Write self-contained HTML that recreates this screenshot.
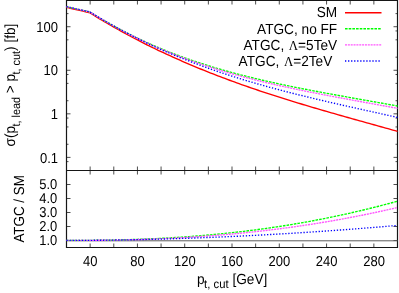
<!DOCTYPE html>
<html><head><meta charset="utf-8"><style>html,body{margin:0;padding:0;background:#fff}svg{display:block;will-change:transform}text{font-family:"Liberation Sans",sans-serif;fill:#000;text-rendering:geometricPrecision}</style></head><body>
<svg width="399" height="293" viewBox="0 0 399 293">
<rect width="399" height="293" fill="#fff"/>
<path d="M90.14,0.5 v4.0 M90.14,166.5 v8.0 M90.14,247.5 v-4.0 M113.79,0.5 v4.0 M113.79,166.5 v8.0 M113.79,247.5 v-4.0 M137.43,0.5 v4.0 M137.43,166.5 v8.0 M137.43,247.5 v-4.0 M161.07,0.5 v4.0 M161.07,166.5 v8.0 M161.07,247.5 v-4.0 M184.71,0.5 v4.0 M184.71,166.5 v8.0 M184.71,247.5 v-4.0 M208.36,0.5 v4.0 M208.36,166.5 v8.0 M208.36,247.5 v-4.0 M232.00,0.5 v4.0 M232.00,166.5 v8.0 M232.00,247.5 v-4.0 M255.64,0.5 v4.0 M255.64,166.5 v8.0 M255.64,247.5 v-4.0 M279.29,0.5 v4.0 M279.29,166.5 v8.0 M279.29,247.5 v-4.0 M302.93,0.5 v4.0 M302.93,166.5 v8.0 M302.93,247.5 v-4.0 M326.57,0.5 v4.0 M326.57,166.5 v8.0 M326.57,247.5 v-4.0 M350.21,0.5 v4.0 M350.21,166.5 v8.0 M350.21,247.5 v-4.0 M373.86,0.5 v4.0 M373.86,166.5 v8.0 M373.86,247.5 v-4.0 M66.5,161.61 h2.0 M397.5,161.61 h-2.0 M66.5,157.39 h4.0 M397.5,157.39 h-4.0 M66.5,144.28 h2.0 M397.5,144.28 h-2.0 M66.5,126.94 h2.0 M397.5,126.94 h-2.0 M66.5,118.05 h2.0 M397.5,118.05 h-2.0 M66.5,113.83 h4.0 M397.5,113.83 h-4.0 M66.5,100.72 h2.0 M397.5,100.72 h-2.0 M66.5,83.39 h2.0 M397.5,83.39 h-2.0 M66.5,74.50 h2.0 M397.5,74.50 h-2.0 M66.5,70.28 h4.0 M397.5,70.28 h-4.0 M66.5,57.17 h2.0 M397.5,57.17 h-2.0 M66.5,39.83 h2.0 M397.5,39.83 h-2.0 M66.5,30.94 h2.0 M397.5,30.94 h-2.0 M66.5,26.72 h4.0 M397.5,26.72 h-4.0 M66.5,13.61 h2.0 M397.5,13.61 h-2.0 M66.5,240.50 h4.0 M397.5,240.50 h-4.0 M66.5,226.50 h4.0 M397.5,226.50 h-4.0 M66.5,212.50 h4.0 M397.5,212.50 h-4.0 M66.5,198.50 h4.0 M397.5,198.50 h-4.0 M66.5,184.50 h4.0 M397.5,184.50 h-4.0" stroke="#000" stroke-width="0.7" fill="none"/>
<path d="M66.5,0.5 H397.5 V247.5 H66.5 Z M66.5,170.5 H397.5" stroke="#161616" stroke-width="1.2" fill="none"/>
<path d="M66.5,240.8 H397.5" stroke="#5a5a5a" stroke-width="1" fill="none"/>
<path d="M66.50,7.40 L68.86,7.94 L71.23,8.48 L73.59,9.03 L75.96,9.57 L78.32,10.11 L80.69,10.65 L83.05,11.19 L85.41,11.73 L87.78,12.28 L90.14,12.96 L92.51,14.44 L94.87,15.91 L97.24,17.37 L99.60,18.81 L101.96,20.23 L104.33,21.63 L106.69,23.02 L109.06,24.40 L111.42,25.76 L113.79,27.12 L116.15,28.46 L118.51,29.78 L120.88,31.10 L123.24,32.40 L125.61,33.69 L127.97,34.97 L130.34,36.24 L132.70,37.49 L135.06,38.73 L137.43,39.97 L139.79,41.19 L142.16,42.40 L144.52,43.59 L146.89,44.78 L149.25,45.96 L151.61,47.11 L153.98,48.26 L156.34,49.39 L158.71,50.52 L161.07,51.63 L163.44,52.73 L165.80,53.83 L168.16,54.91 L170.53,55.98 L172.89,57.06 L175.26,58.13 L177.62,59.18 L179.99,60.23 L182.35,61.27 L184.71,62.30 L187.08,63.32 L189.44,64.33 L191.81,65.33 L194.17,66.33 L196.54,67.31 L198.90,68.29 L201.26,69.25 L203.63,70.21 L205.99,71.16 L208.36,72.11 L210.72,73.04 L213.09,73.97 L215.45,74.89 L217.81,75.80 L220.18,76.70 L222.54,77.60 L224.91,78.49 L227.27,79.37 L229.64,80.25 L232.00,81.11 L234.36,81.98 L236.73,82.83 L239.09,83.68 L241.46,84.52 L243.82,85.36 L246.19,86.18 L248.55,87.01 L250.91,87.82 L253.28,88.63 L255.64,89.44 L258.01,90.24 L260.37,91.03 L262.74,91.82 L265.10,92.60 L267.46,93.38 L269.83,94.15 L272.19,94.92 L274.56,95.68 L276.92,96.44 L279.29,97.19 L281.65,97.94 L284.01,98.68 L286.38,99.42 L288.74,100.16 L291.11,100.89 L293.47,101.61 L295.84,102.34 L298.20,103.06 L300.56,103.77 L302.93,104.48 L305.29,105.19 L307.66,105.90 L310.02,106.60 L312.39,107.30 L314.75,107.99 L317.11,108.69 L319.48,109.38 L321.84,110.07 L324.21,110.75 L326.57,111.43 L328.94,112.11 L331.30,112.79 L333.66,113.47 L336.03,114.14 L338.39,114.81 L340.76,115.49 L343.12,116.15 L345.49,116.82 L347.85,117.49 L350.21,118.15 L352.58,118.82 L354.94,119.48 L357.31,120.14 L359.67,120.80 L362.04,121.46 L364.40,122.12 L366.76,122.78 L369.13,123.44 L371.49,124.10 L373.86,124.76 L376.22,125.41 L378.59,126.07 L380.95,126.73 L383.31,127.39 L385.68,128.05 L388.04,128.71 L390.41,129.37 L392.77,130.03 L395.14,130.69 L397.50,131.35" stroke="#ff0000" stroke-width="1.35" fill="none"/>
<path d="M66.50,6.66 L68.86,7.20 L71.23,7.74 L73.59,8.28 L75.96,8.82 L78.32,9.35 L80.69,9.88 L83.05,10.41 L85.41,10.93 L87.78,11.45 L90.14,12.11 L92.51,13.57 L94.87,15.01 L97.24,16.43 L99.60,17.84 L101.96,19.22 L104.33,20.60 L106.69,21.95 L109.06,23.29 L111.42,24.61 L113.79,25.92 L116.15,27.21 L118.51,28.48 L120.88,29.73 L123.24,30.97 L125.61,32.20 L127.97,33.41 L130.34,34.60 L132.70,35.77 L135.06,36.93 L137.43,38.08 L139.79,39.21 L142.16,40.32 L144.52,41.42 L146.89,42.50 L149.25,43.57 L151.61,44.62 L153.98,45.65 L156.34,46.66 L158.71,47.66 L161.07,48.65 L163.44,49.62 L165.80,50.58 L168.16,51.53 L170.53,52.46 L172.89,53.38 L175.26,54.29 L177.62,55.18 L179.99,56.06 L182.35,56.93 L184.71,57.78 L187.08,58.62 L189.44,59.45 L191.81,60.27 L194.17,61.08 L196.54,61.88 L198.90,62.66 L201.26,63.43 L203.63,64.20 L205.99,64.95 L208.36,65.69 L210.72,66.42 L213.09,67.14 L215.45,67.85 L217.81,68.55 L220.18,69.25 L222.54,69.93 L224.91,70.60 L227.27,71.26 L229.64,71.92 L232.00,72.57 L234.36,73.20 L236.73,73.83 L239.09,74.45 L241.46,75.07 L243.82,75.67 L246.19,76.27 L248.55,76.86 L250.91,77.44 L253.28,78.02 L255.64,78.59 L258.01,79.15 L260.37,79.71 L262.74,80.26 L265.10,80.80 L267.46,81.34 L269.83,81.87 L272.19,82.40 L274.56,82.92 L276.92,83.43 L279.29,83.94 L281.65,84.45 L284.01,84.95 L286.38,85.44 L288.74,85.93 L291.11,86.42 L293.47,86.90 L295.84,87.38 L298.20,87.85 L300.56,88.32 L302.93,88.79 L305.29,89.25 L307.66,89.71 L310.02,90.16 L312.39,90.62 L314.75,91.07 L317.11,91.51 L319.48,91.96 L321.84,92.40 L324.21,92.84 L326.57,93.27 L328.94,93.71 L331.30,94.14 L333.66,94.57 L336.03,95.00 L338.39,95.43 L340.76,95.86 L343.12,96.28 L345.49,96.71 L347.85,97.13 L350.21,97.55 L352.58,97.97 L354.94,98.39 L357.31,98.81 L359.67,99.23 L362.04,99.65 L364.40,100.07 L366.76,100.49 L369.13,100.91 L371.49,101.33 L373.86,101.75 L376.22,102.17 L378.59,102.59 L380.95,103.02 L383.31,103.44 L385.68,103.86 L388.04,104.29 L390.41,104.72 L392.77,105.14 L395.14,105.57 L397.50,106.00" stroke="#00ff00" stroke-width="1.35" fill="none" stroke-dasharray="2.6,1.08"/>
<path d="M66.50,6.66 L68.86,7.20 L71.23,7.74 L73.59,8.28 L75.96,8.82 L78.32,9.35 L80.69,9.89 L83.05,10.42 L85.41,10.95 L87.78,11.47 L90.14,12.13 L92.51,13.59 L94.87,15.04 L97.24,16.47 L99.60,17.88 L101.96,19.28 L104.33,20.66 L106.69,22.02 L109.06,23.37 L111.42,24.70 L113.79,26.02 L116.15,27.32 L118.51,28.61 L120.88,29.87 L123.24,31.13 L125.61,32.37 L127.97,33.59 L130.34,34.79 L132.70,35.99 L135.06,37.16 L137.43,38.32 L139.79,39.47 L142.16,40.60 L144.52,41.72 L146.89,42.82 L149.25,43.91 L151.61,44.98 L153.98,46.03 L156.34,47.06 L158.71,48.09 L161.07,49.10 L163.44,50.09 L165.80,51.07 L168.16,52.04 L170.53,53.00 L172.89,53.94 L175.26,54.87 L177.62,55.78 L179.99,56.69 L182.35,57.58 L184.71,58.46 L187.08,59.33 L189.44,60.18 L191.81,61.03 L194.17,61.86 L196.54,62.68 L198.90,63.49 L201.26,64.29 L203.63,65.08 L205.99,65.85 L208.36,66.62 L210.72,67.38 L213.09,68.12 L215.45,68.86 L217.81,69.59 L220.18,70.30 L222.54,71.01 L224.91,71.71 L227.27,72.40 L229.64,73.08 L232.00,73.75 L234.36,74.41 L236.73,75.06 L239.09,75.71 L241.46,76.35 L243.82,76.98 L246.19,77.60 L248.55,78.21 L250.91,78.82 L253.28,79.42 L255.64,80.01 L258.01,80.60 L260.37,81.18 L262.74,81.75 L265.10,82.32 L267.46,82.87 L269.83,83.43 L272.19,83.98 L274.56,84.52 L276.92,85.05 L279.29,85.58 L281.65,86.11 L284.01,86.63 L286.38,87.14 L288.74,87.65 L291.11,88.16 L293.47,88.66 L295.84,89.16 L298.20,89.65 L300.56,90.14 L302.93,90.62 L305.29,91.10 L307.66,91.58 L310.02,92.05 L312.39,92.52 L314.75,92.99 L317.11,93.45 L319.48,93.91 L321.84,94.37 L324.21,94.82 L326.57,95.28 L328.94,95.73 L331.30,96.18 L333.66,96.62 L336.03,97.07 L338.39,97.51 L340.76,97.95 L343.12,98.39 L345.49,98.83 L347.85,99.26 L350.21,99.70 L352.58,100.13 L354.94,100.57 L357.31,101.00 L359.67,101.43 L362.04,101.86 L364.40,102.30 L366.76,102.73 L369.13,103.16 L371.49,103.59 L373.86,104.02 L376.22,104.45 L378.59,104.88 L380.95,105.32 L383.31,105.75 L385.68,106.19 L388.04,106.62 L390.41,107.06 L392.77,107.49 L395.14,107.93 L397.50,108.37" stroke="#ff55ff" stroke-width="1.35" fill="none" stroke-dasharray="2.0,0.85"/>
<path d="M66.50,6.66 L68.86,7.20 L71.23,7.74 L73.59,8.28 L75.96,8.81 L78.32,9.34 L80.69,9.87 L83.05,10.39 L85.41,10.92 L87.78,11.44 L90.14,12.10 L92.51,13.56 L94.87,15.00 L97.24,16.43 L99.60,17.84 L101.96,19.24 L104.33,20.62 L106.69,21.99 L109.06,23.34 L111.42,24.67 L113.79,26.00 L116.15,27.31 L118.51,28.60 L120.88,29.88 L123.24,31.15 L125.61,32.40 L127.97,33.63 L130.34,34.86 L132.70,36.07 L135.06,37.27 L137.43,38.45 L139.79,39.62 L142.16,40.78 L144.52,41.92 L146.89,43.06 L149.25,44.18 L151.61,45.28 L153.98,46.36 L156.34,47.43 L158.71,48.50 L161.07,49.54 L163.44,50.58 L165.80,51.61 L168.16,52.62 L170.53,53.62 L172.89,54.62 L175.26,55.60 L177.62,56.57 L179.99,57.53 L182.35,58.47 L184.71,59.41 L187.08,60.34 L189.44,61.26 L191.81,62.16 L194.17,63.06 L196.54,63.95 L198.90,64.82 L201.26,65.69 L203.63,66.55 L205.99,67.40 L208.36,68.24 L210.72,69.07 L213.09,69.89 L215.45,70.70 L217.81,71.51 L220.18,72.30 L222.54,73.09 L224.91,73.87 L227.27,74.64 L229.64,75.41 L232.00,76.16 L234.36,76.91 L236.73,77.65 L239.09,78.38 L241.46,79.11 L243.82,79.83 L246.19,80.54 L248.55,81.24 L250.91,81.94 L253.28,82.63 L255.64,83.32 L258.01,84.00 L260.37,84.67 L262.74,85.33 L265.10,86.00 L267.46,86.65 L269.83,87.30 L272.19,87.94 L274.56,88.58 L276.92,89.21 L279.29,89.84 L281.65,90.46 L284.01,91.08 L286.38,91.69 L288.74,92.30 L291.11,92.90 L293.47,93.50 L295.84,94.10 L298.20,94.69 L300.56,95.27 L302.93,95.86 L305.29,96.43 L307.66,97.01 L310.02,97.58 L312.39,98.15 L314.75,98.71 L317.11,99.28 L319.48,99.84 L321.84,100.39 L324.21,100.94 L326.57,101.50 L328.94,102.04 L331.30,102.59 L333.66,103.13 L336.03,103.67 L338.39,104.21 L340.76,104.75 L343.12,105.29 L345.49,105.82 L347.85,106.35 L350.21,106.89 L352.58,107.42 L354.94,107.95 L357.31,108.47 L359.67,109.00 L362.04,109.53 L364.40,110.05 L366.76,110.58 L369.13,111.10 L371.49,111.63 L373.86,112.15 L376.22,112.67 L378.59,113.20 L380.95,113.72 L383.31,114.25 L385.68,114.77 L388.04,115.30 L390.41,115.83 L392.77,116.35 L395.14,116.88 L397.50,117.41" stroke="#0000ff" stroke-width="1.35" fill="none" stroke-dasharray="1.3,1.74"/>
<path d="M66.50,240.42 L68.86,240.42 L71.23,240.41 L73.59,240.41 L75.96,240.41 L78.32,240.40 L80.69,240.39 L83.05,240.38 L85.41,240.37 L87.78,240.35 L90.14,240.33 L92.51,240.31 L94.87,240.29 L97.24,240.27 L99.60,240.24 L101.96,240.21 L104.33,240.17 L106.69,240.13 L109.06,240.09 L111.42,240.05 L113.79,240.00 L116.15,239.95 L118.51,239.90 L120.88,239.84 L123.24,239.78 L125.61,239.72 L127.97,239.65 L130.34,239.58 L132.70,239.51 L135.06,239.43 L137.43,239.35 L139.79,239.26 L142.16,239.18 L144.52,239.08 L146.89,238.99 L149.25,238.89 L151.61,238.78 L153.98,238.67 L156.34,238.56 L158.71,238.44 L161.07,238.32 L163.44,238.20 L165.80,238.07 L168.16,237.94 L170.53,237.80 L172.89,237.66 L175.26,237.52 L177.62,237.37 L179.99,237.21 L182.35,237.05 L184.71,236.89 L187.08,236.72 L189.44,236.55 L191.81,236.38 L194.17,236.19 L196.54,236.01 L198.90,235.82 L201.26,235.63 L203.63,235.43 L205.99,235.22 L208.36,235.01 L210.72,234.80 L213.09,234.58 L215.45,234.36 L217.81,234.13 L220.18,233.90 L222.54,233.66 L224.91,233.42 L227.27,233.18 L229.64,232.92 L232.00,232.67 L234.36,232.41 L236.73,232.14 L239.09,231.87 L241.46,231.59 L243.82,231.31 L246.19,231.02 L248.55,230.73 L250.91,230.44 L253.28,230.13 L255.64,229.83 L258.01,229.51 L260.37,229.20 L262.74,228.87 L265.10,228.55 L267.46,228.21 L269.83,227.87 L272.19,227.53 L274.56,227.18 L276.92,226.83 L279.29,226.47 L281.65,226.10 L284.01,225.73 L286.38,225.35 L288.74,224.97 L291.11,224.58 L293.47,224.19 L295.84,223.79 L298.20,223.39 L300.56,222.98 L302.93,222.57 L305.29,222.14 L307.66,221.72 L310.02,221.29 L312.39,220.85 L314.75,220.41 L317.11,219.96 L319.48,219.50 L321.84,219.04 L324.21,218.58 L326.57,218.11 L328.94,217.63 L331.30,217.14 L333.66,216.66 L336.03,216.16 L338.39,215.66 L340.76,215.15 L343.12,214.64 L345.49,214.12 L347.85,213.60 L350.21,213.07 L352.58,212.53 L354.94,211.99 L357.31,211.44 L359.67,210.89 L362.04,210.33 L364.40,209.76 L366.76,209.19 L369.13,208.61 L371.49,208.02 L373.86,207.43 L376.22,206.84 L378.59,206.23 L380.95,205.62 L383.31,205.01 L385.68,204.39 L388.04,203.76 L390.41,203.13 L392.77,202.49 L395.14,201.84 L397.50,201.19" stroke="#00ff00" stroke-width="1.35" fill="none" stroke-dasharray="2.6,1.08"/>
<path d="M66.50,240.42 L68.86,240.42 L71.23,240.41 L73.59,240.41 L75.96,240.41 L78.32,240.40 L80.69,240.40 L83.05,240.39 L85.41,240.38 L87.78,240.37 L90.14,240.35 L92.51,240.33 L94.87,240.32 L97.24,240.30 L99.60,240.27 L101.96,240.25 L104.33,240.22 L106.69,240.19 L109.06,240.16 L111.42,240.12 L113.79,240.08 L116.15,240.04 L118.51,240.00 L120.88,239.95 L123.24,239.90 L125.61,239.85 L127.97,239.80 L130.34,239.74 L132.70,239.68 L135.06,239.61 L137.43,239.55 L139.79,239.48 L142.16,239.40 L144.52,239.33 L146.89,239.25 L149.25,239.17 L151.61,239.08 L153.98,238.99 L156.34,238.90 L158.71,238.80 L161.07,238.70 L163.44,238.60 L165.80,238.49 L168.16,238.39 L170.53,238.27 L172.89,238.16 L175.26,238.03 L177.62,237.91 L179.99,237.78 L182.35,237.65 L184.71,237.52 L187.08,237.38 L189.44,237.24 L191.81,237.09 L194.17,236.94 L196.54,236.79 L198.90,236.63 L201.26,236.47 L203.63,236.30 L205.99,236.13 L208.36,235.96 L210.72,235.78 L213.09,235.60 L215.45,235.41 L217.81,235.22 L220.18,235.03 L222.54,234.83 L224.91,234.63 L227.27,234.43 L229.64,234.22 L232.00,234.00 L234.36,233.78 L236.73,233.56 L239.09,233.33 L241.46,233.10 L243.82,232.87 L246.19,232.63 L248.55,232.38 L250.91,232.14 L253.28,231.88 L255.64,231.63 L258.01,231.36 L260.37,231.10 L262.74,230.83 L265.10,230.55 L267.46,230.27 L269.83,229.99 L272.19,229.70 L274.56,229.41 L276.92,229.11 L279.29,228.81 L281.65,228.50 L284.01,228.19 L286.38,227.88 L288.74,227.55 L291.11,227.23 L293.47,226.90 L295.84,226.56 L298.20,226.23 L300.56,225.88 L302.93,225.53 L305.29,225.18 L307.66,224.82 L310.02,224.46 L312.39,224.09 L314.75,223.72 L317.11,223.34 L319.48,222.96 L321.84,222.57 L324.21,222.18 L326.57,221.78 L328.94,221.38 L331.30,220.97 L333.66,220.56 L336.03,220.14 L338.39,219.72 L340.76,219.29 L343.12,218.86 L345.49,218.42 L347.85,217.98 L350.21,217.53 L352.58,217.08 L354.94,216.62 L357.31,216.16 L359.67,215.69 L362.04,215.22 L364.40,214.74 L366.76,214.25 L369.13,213.76 L371.49,213.27 L373.86,212.77 L376.22,212.27 L378.59,211.76 L380.95,211.24 L383.31,210.72 L385.68,210.20 L388.04,209.67 L390.41,209.13 L392.77,208.59 L395.14,208.04 L397.50,207.49" stroke="#ff55ff" stroke-width="1.35" fill="none" stroke-dasharray="2.0,0.85"/>
<path d="M66.50,240.42 L68.86,240.41 L71.23,240.41 L73.59,240.41 L75.96,240.40 L78.32,240.39 L80.69,240.38 L83.05,240.37 L85.41,240.36 L87.78,240.34 L90.14,240.32 L92.51,240.31 L94.87,240.29 L97.24,240.26 L99.60,240.24 L101.96,240.21 L104.33,240.19 L106.69,240.16 L109.06,240.13 L111.42,240.10 L113.79,240.07 L116.15,240.03 L118.51,239.99 L120.88,239.96 L123.24,239.92 L125.61,239.88 L127.97,239.83 L130.34,239.79 L132.70,239.74 L135.06,239.70 L137.43,239.65 L139.79,239.60 L142.16,239.55 L144.52,239.49 L146.89,239.44 L149.25,239.38 L151.61,239.32 L153.98,239.27 L156.34,239.20 L158.71,239.14 L161.07,239.08 L163.44,239.01 L165.80,238.95 L168.16,238.88 L170.53,238.81 L172.89,238.74 L175.26,238.66 L177.62,238.59 L179.99,238.51 L182.35,238.44 L184.71,238.36 L187.08,238.28 L189.44,238.20 L191.81,238.11 L194.17,238.03 L196.54,237.94 L198.90,237.86 L201.26,237.77 L203.63,237.68 L205.99,237.58 L208.36,237.49 L210.72,237.40 L213.09,237.30 L215.45,237.20 L217.81,237.10 L220.18,237.00 L222.54,236.90 L224.91,236.80 L227.27,236.69 L229.64,236.59 L232.00,236.48 L234.36,236.37 L236.73,236.26 L239.09,236.15 L241.46,236.03 L243.82,235.92 L246.19,235.80 L248.55,235.68 L250.91,235.56 L253.28,235.44 L255.64,235.32 L258.01,235.20 L260.37,235.07 L262.74,234.94 L265.10,234.82 L267.46,234.69 L269.83,234.56 L272.19,234.42 L274.56,234.29 L276.92,234.16 L279.29,234.02 L281.65,233.88 L284.01,233.74 L286.38,233.60 L288.74,233.46 L291.11,233.32 L293.47,233.17 L295.84,233.02 L298.20,232.88 L300.56,232.73 L302.93,232.58 L305.29,232.42 L307.66,232.27 L310.02,232.12 L312.39,231.96 L314.75,231.80 L317.11,231.64 L319.48,231.48 L321.84,231.32 L324.21,231.16 L326.57,230.99 L328.94,230.83 L331.30,230.66 L333.66,230.49 L336.03,230.32 L338.39,230.15 L340.76,229.98 L343.12,229.80 L345.49,229.63 L347.85,229.45 L350.21,229.27 L352.58,229.09 L354.94,228.91 L357.31,228.73 L359.67,228.54 L362.04,228.36 L364.40,228.17 L366.76,227.98 L369.13,227.79 L371.49,227.60 L373.86,227.41 L376.22,227.21 L378.59,227.02 L380.95,226.82 L383.31,226.62 L385.68,226.43 L388.04,226.22 L390.41,226.02 L392.77,225.82 L395.14,225.61 L397.50,225.41" stroke="#0000ff" stroke-width="1.35" fill="none" stroke-dasharray="1.3,1.74"/>
<path d="M345,12.7 H381.5" stroke="#ff0000" stroke-width="1.35" fill="none"/>
<path d="M345,28.7 H381.5" stroke="#00ff00" stroke-width="1.35" fill="none" stroke-dasharray="2.6,1.08"/>
<path d="M345,44.9 H381.5" stroke="#ff55ff" stroke-width="1.35" fill="none" stroke-dasharray="2.0,0.85"/>
<path d="M345,61.0 H381.5" stroke="#0000ff" stroke-width="1.35" fill="none" stroke-dasharray="1.3,1.74"/>
<text transform="translate(58.00,31.92) scale(0.930,1.035)" font-size="14" text-anchor="end">100</text>
<text transform="translate(58.00,75.48) scale(0.930,1.035)" font-size="14" text-anchor="end">10</text>
<text transform="translate(58.00,119.03) scale(0.930,1.035)" font-size="14" text-anchor="end">1</text>
<text transform="translate(58.00,162.59) scale(0.930,1.035)" font-size="14" text-anchor="end">0.1</text>
<text transform="translate(57.30,245.48) scale(0.925,1.020)" font-size="14" text-anchor="end">1.0</text>
<text transform="translate(57.30,231.36) scale(0.925,1.020)" font-size="14" text-anchor="end">2.0</text>
<text transform="translate(57.30,217.24) scale(0.925,1.020)" font-size="14" text-anchor="end">3.0</text>
<text transform="translate(57.30,203.12) scale(0.925,1.020)" font-size="14" text-anchor="end">4.0</text>
<text transform="translate(57.30,189.00) scale(0.925,1.020)" font-size="14" text-anchor="end">5.0</text>
<text transform="translate(90.29,266.20) scale(0.930,1.035)" font-size="14" text-anchor="middle">40</text>
<text transform="translate(137.58,266.20) scale(0.930,1.035)" font-size="14" text-anchor="middle">80</text>
<text transform="translate(184.86,266.20) scale(0.930,1.035)" font-size="14" text-anchor="middle">120</text>
<text transform="translate(232.15,266.20) scale(0.930,1.035)" font-size="14" text-anchor="middle">160</text>
<text transform="translate(279.44,266.20) scale(0.930,1.035)" font-size="14" text-anchor="middle">200</text>
<text transform="translate(326.72,266.20) scale(0.930,1.035)" font-size="14" text-anchor="middle">240</text>
<text transform="translate(374.01,266.20) scale(0.930,1.035)" font-size="14" text-anchor="middle">280</text>
<text transform="translate(337.20,17.30) scale(0.975,1.045)" font-size="14" text-anchor="end">SM</text>
<text transform="translate(337.20,33.60) scale(0.975,1.045)" font-size="14" text-anchor="end">ATGC, no FF</text>
<text transform="translate(337.20,49.75) scale(0.975,1.045)" font-size="14" text-anchor="end">ATGC, <tspan font-family="Liberation Serif" font-size="13.2" dx="0.8">&#923;</tspan>=5TeV</text>
<text transform="translate(332.30,65.65) scale(0.975,1.045)" font-size="14" text-anchor="end">ATGC, <tspan font-family="Liberation Serif" font-size="13.2" dx="0.8">&#923;</tspan>=2TeV</text>
<text transform="translate(197.10,283.60) scale(0.975,1.045)" font-size="14" text-anchor="start">p<tspan font-size="11.6" dy="4.5" dx="-0.6">t, cut</tspan><tspan dy="-4.5"> [GeV]</tspan></text>
<text transform="translate(14.90,146.50) rotate(-90) scale(0.972,1.045)" font-size="14" text-anchor="start">&#963;(p<tspan font-size="11.2" dy="5.1" dx="-0.6">t, lead</tspan><tspan dy="-5.1"> &gt; p</tspan><tspan font-size="11.2" dy="5.1" dx="-0.6">t, cut</tspan><tspan dy="-5.1">) [fb]</tspan></text>
<text transform="translate(24.00,242.60) rotate(-90) scale(0.957,1.045)" font-size="14" text-anchor="start">ATGC / SM</text>
</svg></body></html>
